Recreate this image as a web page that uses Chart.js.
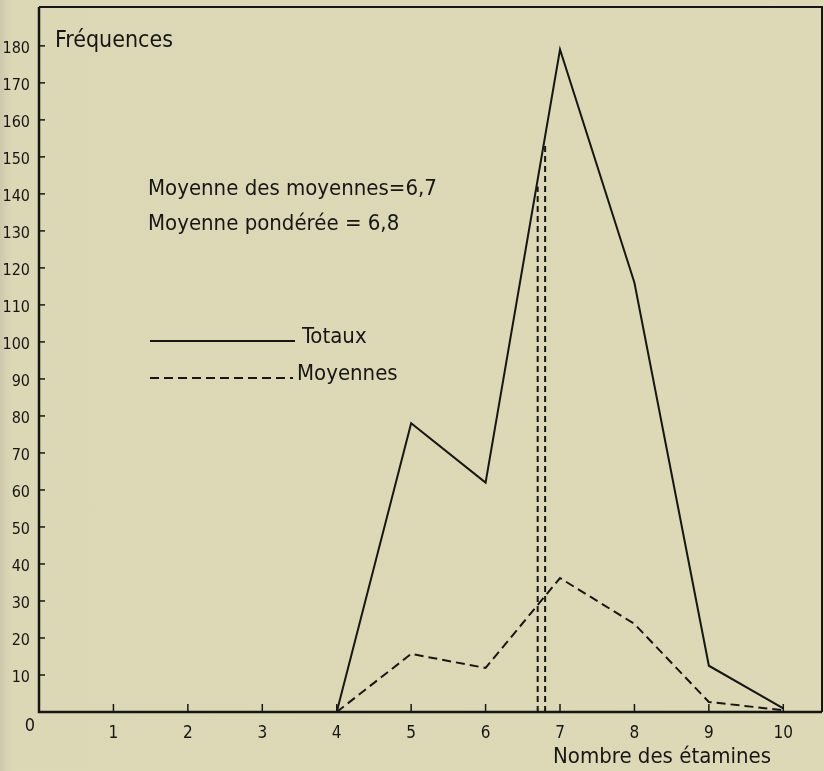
<!DOCTYPE html>
<html lang="fr">
<head>
<meta charset="utf-8">
<title>Fréquences - Nombre des étamines</title>
<script src="https://cdn.jsdelivr.net/npm/chart.js@4"></script>
<style>
  html, body { margin: 0; padding: 0; }
  body {
    width: 824px; height: 771px; overflow: hidden;
    background: linear-gradient(to right, #cdc8ab 0px, #d6d1b2 6px, #dcd8b6 12px, #ddd9b7 100%);
  }
  #wrap { position: relative; width: 824px; height: 771px; }
</style>
</head>
<body>
<div id="wrap"><canvas id="graphique" width="824" height="771"></canvas></div>
<script>
// ======================
// Données
// ======================
const nombreEtamines = [4, 5, 6, 7, 8, 9, 10];
const totaux = [0, 78, 62, 179, 116, 12.5, 1];
const moyennes = [0, 15.7, 11.9, 36.2, 23.8, 2.7, 0.5];

// moyennes et hauteur des traits verticaux (jusqu'à la courbe des totaux)
const moyenneDesMoyennes = 6.7;
const moyennePonderee = 6.8;
const hauteursTraits = [142, 154];

const ticksX = [1, 2, 3, 4, 5, 6, 7, 8, 9, 10];
const ticksY = [10, 20, 30, 40, 50, 60, 70, 80, 90, 100, 110, 120, 130, 140, 150, 160, 170, 180];

const POLICE = '"DejaVu Sans Condensed", "DejaVu Sans", sans-serif';
const ENCRE = "#161616";

function points(xs, ys) {
  return xs.map((x, i) => ({ x: x, y: ys[i] }));
}

// pas de marge automatique autour des axes
function sansMarge(s) {
  s.paddingLeft = 0;
  s.paddingRight = 0;
  s.paddingTop = 0;
  s.paddingBottom = 0;
}

// ======================
// Décor : cadre, graduations, textes, légende
// ======================
const decor = {
  id: "decor",
  afterDraw(chart) {
    const ctx = chart.ctx;
    const a = chart.chartArea;
    const sx = chart.scales.x, sy = chart.scales.y;
    ctx.save();
    ctx.strokeStyle = ENCRE;
    ctx.lineCap = "butt";

    // cadre haut / droite
    ctx.lineWidth = 2;
    ctx.beginPath();
    ctx.moveTo(a.left, a.top);
    ctx.lineTo(a.right, a.top);
    ctx.lineTo(a.right, a.bottom);
    ctx.stroke();

    // axes
    ctx.lineWidth = 2.5;
    ctx.beginPath();
    ctx.moveTo(a.left, a.top);
    ctx.lineTo(a.left, a.bottom);
    ctx.lineTo(a.right, a.bottom);
    ctx.stroke();

    // graduations vers l'intérieur
    ctx.lineWidth = 1.5;
    ticksY.forEach(v => {
      const y = sy.getPixelForValue(v);
      ctx.beginPath();
      ctx.moveTo(a.left, y);
      ctx.lineTo(a.left + 6, y);
      ctx.stroke();
    });
    ticksX.forEach(v => {
      const x = sx.getPixelForValue(v);
      ctx.beginPath();
      ctx.moveTo(x, a.bottom);
      ctx.lineTo(x, a.bottom - 8);
      ctx.stroke();
    });

    ctx.fillStyle = ENCRE;
    ctx.textBaseline = "alphabetic";

    // origine
    ctx.font = "18px " + POLICE;
    ctx.textAlign = "center";
    ctx.fillText("0", sx.getPixelForValue(0) - 9, a.bottom + 19);

    // titres
    ctx.textAlign = "left";
    ctx.font = "23px " + POLICE;
    ctx.fillText("Fréquences", 55, 47);
    ctx.font = "22px " + POLICE;
    ctx.fillText("Nombre des étamines", 553, 763);

    ctx.fillText("Moyenne des moyennes=" + String(moyenneDesMoyennes).replace(".", ","), 148, 195);
    ctx.fillText("Moyenne pondérée = " + String(moyennePonderee).replace(".", ","), 148, 230);

    // légende
    const ds = chart.data.datasets;
    const legende = [
      { ds: ds[0], y: 341, fin: 295, texte: "Totaux", tx: 302 },
      { ds: ds[1], y: 378, fin: 293, texte: "Moyennes", tx: 297 }
    ];
    legende.forEach(l => {
      ctx.lineWidth = 1.8;
      ctx.setLineDash(l.ds.borderDash || []);
      ctx.beginPath();
      ctx.moveTo(150, l.y);
      ctx.lineTo(l.fin, l.y);
      ctx.stroke();
      ctx.setLineDash([]);
      ctx.fillText(l.texte, l.tx, l.y + 2);
    });

    ctx.restore();
  }
};

function dessinerGraphique() {
  const ctx = document.getElementById("graphique").getContext("2d");

  new Chart(ctx, {
    type: "line",
    data: {
      datasets: [
        {
          label: "Totaux",
          data: points(nombreEtamines, totaux),
          borderColor: ENCRE,
          borderWidth: 2,
          pointRadius: 0,
          tension: 0
        },
        {
          label: "Moyennes",
          data: points(nombreEtamines, moyennes),
          borderColor: ENCRE,
          borderWidth: 2,
          borderDash: [9, 5],
          pointRadius: 0,
          tension: 0
        },
        {
          label: "Moyenne des moyennes",
          data: [{ x: moyenneDesMoyennes, y: 0 }, { x: moyenneDesMoyennes, y: hauteursTraits[0] }],
          borderColor: ENCRE,
          borderWidth: 2,
          borderDash: [6, 4],
          pointRadius: 0
        },
        {
          label: "Moyenne pondérée",
          data: [{ x: moyennePonderee, y: 0 }, { x: moyennePonderee, y: hauteursTraits[1] }],
          borderColor: ENCRE,
          borderWidth: 2,
          borderDash: [6, 4],
          pointRadius: 0
        }
      ]
    },
    options: {
      responsive: false,
      animation: false,
      layout: { padding: { top: 7, right: 2, left: 0, bottom: 0 } },
      plugins: {
        legend: { display: false },
        tooltip: { enabled: false }
      },
      scales: {
        x: {
          type: "linear",
          min: 0,
          max: 10.52,
          afterBuildTicks: s => { s.ticks = [0].concat(ticksX).map(v => ({ value: v })); },
          afterFit: s => { s.height = 59; sansMarge(s); },
          grid: { display: false, drawTicks: false },
          border: { display: false },
          ticks: {
            autoSkip: false,
            maxRotation: 0,
            padding: 11,
            color: ENCRE,
            font: { family: POLICE, size: 17 },
            callback: v => ticksX.includes(v) ? String(v) : ""
          }
        },
        y: {
          min: 0,
          max: 190.5,
          afterBuildTicks: s => { s.ticks = [0].concat(ticksY).map(v => ({ value: v })); },
          afterFit: s => { s.width = 39; sansMarge(s); },
          grid: { display: false, drawTicks: false },
          border: { display: false },
          ticks: {
            autoSkip: false,
            padding: 9,
            labelOffset: 3,
            color: ENCRE,
            font: { family: POLICE, size: 16 },
            callback: v => ticksY.includes(v) ? String(v) : ""
          }
        }
      }
    },
    plugins: [decor]
  });
}

document.addEventListener("DOMContentLoaded", () => {
  dessinerGraphique();
});
</script>
</body>
</html>
